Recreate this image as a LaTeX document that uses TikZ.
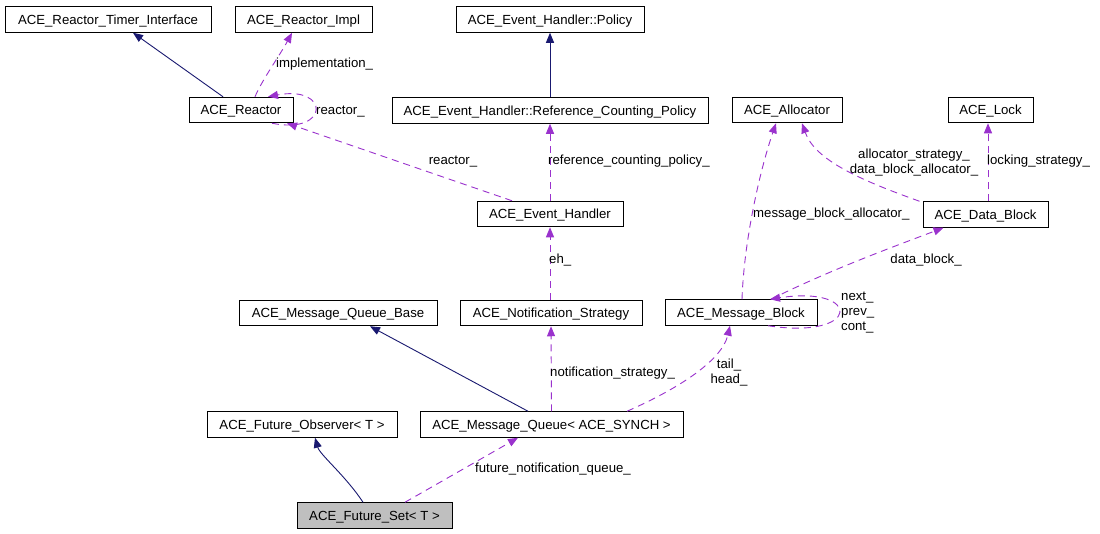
\documentclass[tikz,border=0pt]{standalone}
\usepackage{fontspec}
\setmainfont{Liberation Sans}
\usetikzlibrary{arrows.meta,calc}
\definecolor{inhcol}{RGB}{25,25,112}
\definecolor{usecol}{RGB}{154,50,205}
\definecolor{hilite}{RGB}{191,191,191}
\begin{document}
\begin{tikzpicture}[x=1pt,y=-1pt,
  txt/.style={font=\fontsize{13.2}{15}\selectfont},
  oneline/.style={txt,text height=9.5pt,text depth=0pt},
  cls/.style={oneline,draw=black,line width=1pt,inner sep=0pt,minimum height=25.5pt,anchor=center},
  lbl/.style={oneline,inner sep=0pt,anchor=west},
  clbl/.style={txt,inner sep=0pt,anchor=center,align=center},
  inh/.style={draw=inhcol,line width=0.9pt,-{Triangle[length=10pt,width=8pt]},inhcol},
  use/.style={draw=usecol,line width=0.9pt,dash pattern=on 7pt off 5pt,-{Triangle[length=10pt,width=8pt,fill=usecol]},usecol}]
\useasboundingbox[fill=white] (0,0) rectangle (1100,533);
% nodes
\node[cls,minimum width=206pt] (rti) at (108,19.5) {ACE\_Reactor\_Timer\_Interface};
\node[cls,minimum width=137pt] (rimpl) at (303.5,19.5) {ACE\_Reactor\_Impl};
\node[cls,minimum width=188pt] (policy) at (550,19.5) {ACE\_Event\_Handler::Policy};
\node[cls,minimum width=104pt] (reactor) at (241,110) {ACE\_Reactor};
\node[cls,minimum width=316pt] (rcp) at (550,110.5) {ACE\_Event\_Handler::Reference\_Counting\_Policy};
\node[cls,minimum width=110pt] (alloc) at (787,110) {ACE\_Allocator};
\node[cls,minimum width=85pt] (lock) at (990.5,110) {ACE\_Lock};
\node[cls,minimum width=146pt] (eh) at (550,214) {ACE\_Event\_Handler};
\node[cls,minimum width=125pt] (db) at (985.5,214.5) {ACE\_Data\_Block};
\node[cls,minimum width=198pt] (mqb) at (338,313) {ACE\_Message\_Queue\_Base};
\node[cls,minimum width=182pt] (ns) at (551,313) {ACE\_Notification\_Strategy};
\node[cls,minimum width=152pt] (mb) at (741,312.5) {ACE\_Message\_Block};
\node[cls,minimum width=190pt] (fo) at (302,424.5) {ACE\_Future\_Observer< T >};
\node[cls,minimum width=263pt] (mq) at (551.5,424.5) {ACE\_Message\_Queue< ACE\_SYNCH >};
\node[cls,minimum width=155pt,fill=hilite] (fs) at (374.5,515.5) {ACE\_Future\_Set< T >};
% edges
\draw[inh] ($(reactor.north)+(-18,0)$) -- ($(rti.south)+(25,0)$);
\draw[use] ($(reactor.north)+(14,0)$) .. controls (262,80) and (280,55) .. ($(rimpl.south)+(-11.5,0)$);
\node[lbl] (limpl) at (276,63) {implementation\_};
\draw[use] ($(reactor.south)+(31,0)$) .. controls (330,135) and (330,85) .. ($(reactor.north)+(27,0)$);
\node[lbl] (lreac1) at (316,110) {reactor\_};
\draw[use] ($(eh.north)+(-38,0)$) -- ($(reactor.south)+(46,0)$);
\node[txt,inner sep=0pt,text height=9.5pt,text depth=0pt] (lreac2) at (453,160) {reactor\_};
\draw[use] (eh.north) -- (rcp.south);
\node[lbl] (lrcp) at (548,160) {reference\_counting\_policy\_};
\draw[inh] (rcp.north) -- (policy.south);
\draw[use] ($(db.north west)+(-3,0)$) .. controls (860,180) and (815,160) .. ($(alloc.south)+(15,0)$);
\node[clbl] (lalloc) at (914,163) {allocator\_strategy\_\\data\_block\_allocator\_};
\draw[use] ($(db.north)+(2.5,0)$) -- ($(lock.south)+(-2.5,0)$);
\node[lbl] (llock) at (987,160) {locking\_strategy\_};
\draw[use] ($(mb.north)+(1,0)$) .. controls (744,240) and (760,170) .. ($(alloc.south)+(-11,0)$);
\node[lbl] (lmba) at (753,213) {message\_block\_allocator\_};
\draw[use] ($(mb.north)+(30,0)$) .. controls (830,270) and (890,248) .. ($(db.south)+(-42,0)$);
\node[txt,inner sep=0pt,text height=9.5pt,text depth=0pt] (ldb) at (926,259) {data\_block\_};
\draw[use] ($(mb.south)+(27,0)$) .. controls (862,340) and (862,285) .. ($(mb.north)+(29,0)$);
\node[txt,inner sep=0pt,anchor=west,align=left] (lnext) at (841,313) {next\_\\prev\_\\cont\_};
\draw[use] ($(ns.north)+(-1,0)$) -- (eh.south);
\node[lbl] (leh) at (549,259) {eh\_};
\draw[inh] ($(mq.north)+(-23.5,0)$) -- ($(mqb.south)+(32,0)$);
\draw[use] (mq.north) -- (ns.south);
\node[lbl] (lns) at (550,372) {notification\_strategy\_};
\draw[use] ($(mq.north)+(75.5,0)$) .. controls (680,388) and (722,360) .. ($(mb.south)+(-11,0)$);
\node[clbl] (ltail) at (729,373) {tail\_\\head\_};
\draw[inh] ($(fs.north)+(-11.5,0)$) .. controls (345,475) and (320,455) .. ($(fo.south)+(13,0)$);
\draw[use] ($(fs.north)+(30.5,0)$) -- ($(mq.south)+(-33.5,0)$);
\node[lbl] (lfnq) at (475,468) {future\_notification\_queue\_};
\end{tikzpicture}
\end{document}
